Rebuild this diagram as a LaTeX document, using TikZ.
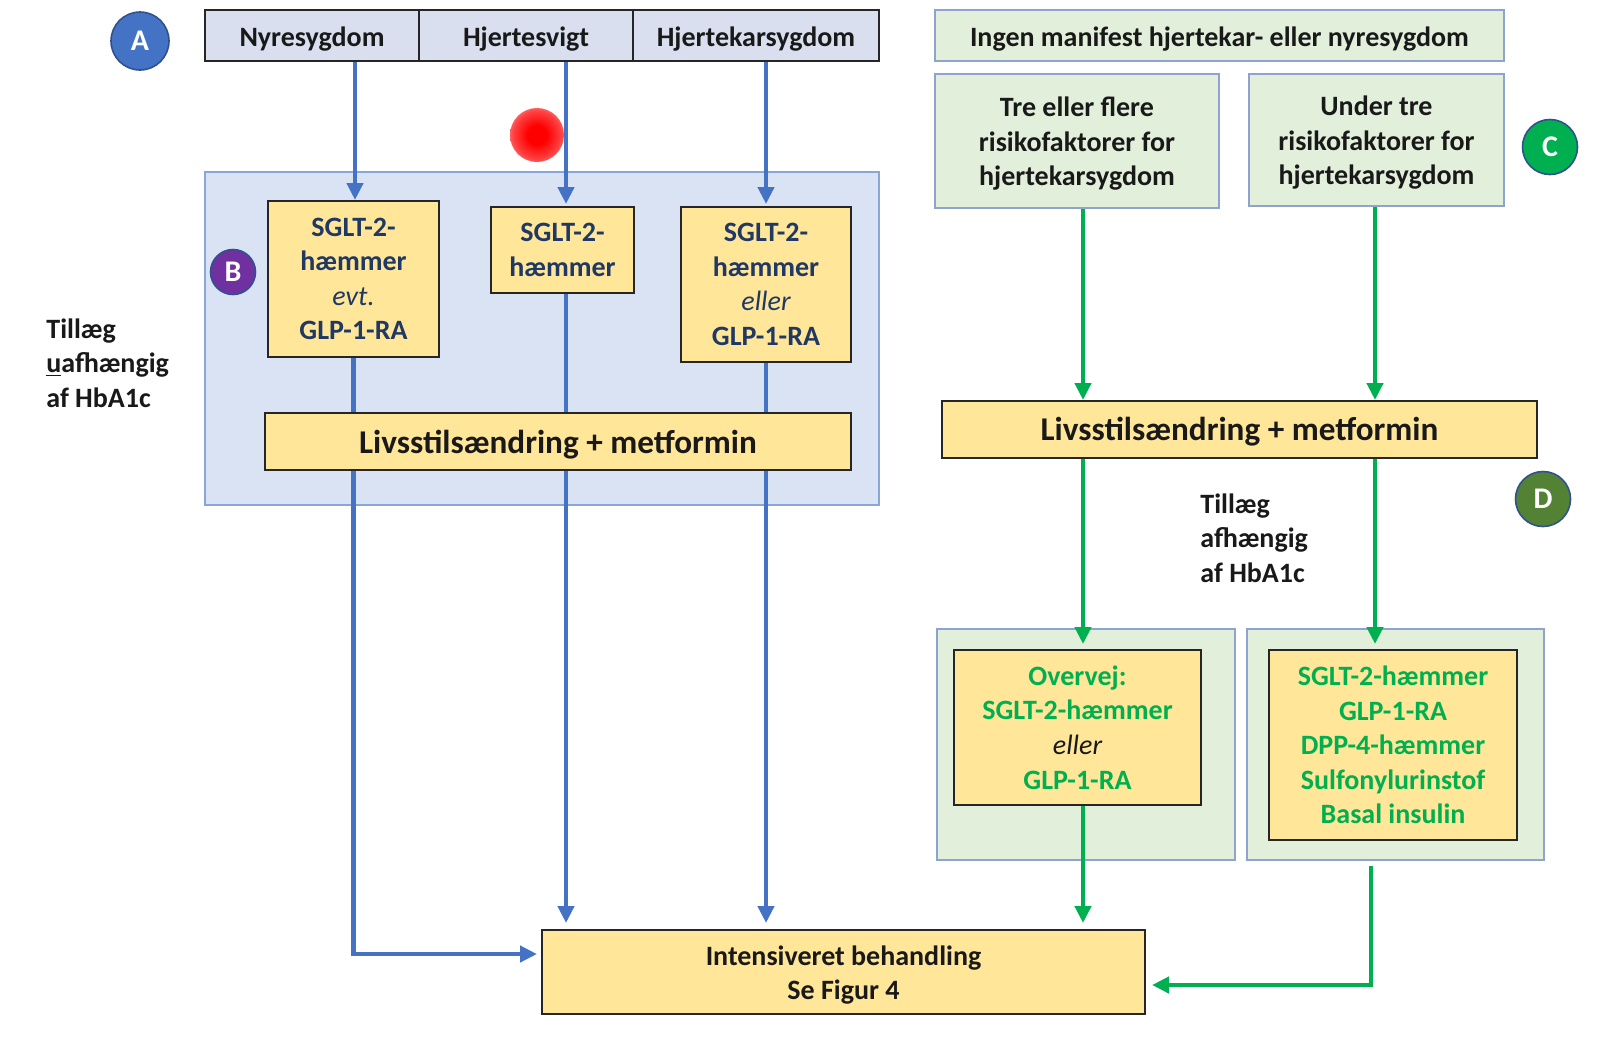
\documentclass[tikz,border=0pt]{standalone}
\usepackage{fontspec}
\setmainfont{Carlito}
\usetikzlibrary{arrows.meta,calc}
\definecolor{hdrfill}{HTML}{D9DFEF}
\definecolor{bfill}{HTML}{DAE3F3}
\definecolor{bborder}{HTML}{8AA6D8}
\definecolor{gfill}{HTML}{E2EFDA}
\definecolor{gborder}{HTML}{8EA3CF}
\definecolor{yel}{HTML}{FFE699}
\definecolor{navy}{HTML}{203864}
\definecolor{arrblue}{HTML}{4472C4}
\definecolor{arrgreen}{HTML}{00B050}
\definecolor{txtgreen}{HTML}{00B050}
\definecolor{cA}{HTML}{4472C4}
\definecolor{cB}{HTML}{7030A0}
\definecolor{cC}{HTML}{00B050}
\definecolor{cD}{HTML}{548235}
\definecolor{cborder}{HTML}{2F528F}
\pgfdeclareradialshading{laserdot}{\pgfpoint{0bp}{0bp}}{color(0bp)=(red); color(9bp)=(red); color(22bp)=(red!75); color(36bp)=(red!25); color(50bp)=(white)}
\newcommand\txtlow[2][2pt]{\raisebox{-#1}[\height][\depth]{\begin{tabular}{@{}c@{}}#2\end{tabular}}}
\begin{document}
\begin{tikzpicture}[x=0.5pt,y=-0.5pt,
  box/.style={rectangle, inner sep=0pt, line width=1pt, align=center, font=\fontsize{14}{17.3}\selectfont\bfseries},
  hdr/.style={box, draw=black!85, fill=hdrfill, text=black!90},
  ybox/.style={box, draw=black!85, fill=yel},
  bigy/.style={ybox, font=\fontsize{16.6}{20}\selectfont\bfseries, text=black!90},
  bcont/.style={box, draw=bborder, fill=bfill},
  gbox/.style={box, draw=gborder, fill=gfill, text=black!90},
  circ/.style={circle, inner sep=0pt, draw=cborder, line width=0.8pt, text=white, font=\fontsize{15}{18}\selectfont\bfseries},
  plain/.style={align=left, inner sep=0pt, font=\fontsize{14}{17.3}\selectfont\bfseries, text=black!90},
  bline/.style={draw=arrblue, line width=2.3pt},
  barrow/.style={bline, -{Triangle[width=8pt,length=8.5pt]}},
  gline/.style={draw=arrgreen, line width=2.3pt},
  garrow/.style={gline, -{Triangle[width=8pt,length=8.5pt]}}
]
\useasboundingbox[fill=white] (0,0) rectangle (1600,1039);

% ---------- left part ----------
\node[circ, fill=cA, minimum size=29pt] (cirA) at (140,41) {A};
\node[hdr, minimum width=107pt, minimum height=25.5pt] (nyre) at (312,35.5) {\txtlow{Nyresygdom}};
\node[hdr, minimum width=107pt, minimum height=25.5pt] (hjsv) at (526,35.5) {\txtlow{Hjertesvigt}};
\node[hdr, minimum width=123pt, minimum height=25.5pt] (hjka) at (756,35.5) {\txtlow{Hjertekarsygdom}};

\node[bcont, minimum width=337pt, minimum height=166.5pt] (contB) at (542,338.5) {};
\node[circ, fill=cB, minimum size=22.5pt] (cirB) at (233,272) {B};

\node[ybox, text=navy, minimum width=85.5pt, minimum height=78pt] (y1) at (353.5,279)
  {\txtlow[1pt]{SGLT-2-\\hæmmer\\{\mdseries\itshape evt.}\\GLP-1-RA}};
\node[ybox, text=navy, minimum width=71.5pt, minimum height=43pt] (y2) at (562.5,250)
  {SGLT-2-\\hæmmer};
\node[ybox, text=navy, minimum width=85pt, minimum height=77.5pt] (y3) at (766,284.5)
  {SGLT-2-\\hæmmer\\{\mdseries\itshape eller}\\GLP-1-RA};

\node[bigy, minimum width=293pt, minimum height=28.5pt] (LL) at (558,441.5) {\txtlow{Livsstilsændring + metformin}};

\node[plain, anchor=west] (tilL) at (46,363) {Tillæg\\\underline{u}afhængig\\af HbA1c};

\node[ybox, text=black!90, minimum width=301.5pt, minimum height=42pt] (intens) at (843.5,972)
  {\txtlow[1.8pt]{Intensiveret behandling\\Se Figur 4}};

% blue connectors
\coordinate (bl) at (0,954);
\coordinate (bx1) at (355,0);
\coordinate (bx2) at (566,0);
\draw[barrow] (bx1 |- nyre.south) -- (bx1 |- y1.north);
\draw[barrow] (bx2 |- hjsv.south) -- ([yshift=1pt]bx2 |- y2.north);
\draw[barrow] (y3.north |- hjka.south) -- ([yshift=1pt]y3.north);
\draw[bline] (y1.south) -- (y1.south |- LL.north);
\draw[bline] (y2.south -| bx2) -- (bx2 |- LL.north);
\draw[bline] (y3.south) -- (y3.south |- LL.north);
\draw[barrow, shorten >=2pt] (y1.south |- LL.south) -- (y1.south |- bl) -- (intens.west |- bl);
\draw[barrow, shorten >=3pt] (bx2 |- LL.south) -- (bx2 |- intens.north);
\draw[barrow, shorten >=3pt] (y3.south |- LL.south) -- (y3.south |- intens.north);

% ---------- right part ----------
\node[gbox, minimum width=284.5pt, minimum height=25.5pt] (ingen) at (1219.5,35.5)
  {\txtlow{Ingen manifest hjertekar- eller nyresygdom}};
\node[gbox, minimum width=142pt, minimum height=67pt] (tre) at (1077,141)
  {\txtlow[1.6pt]{Tre eller flere\\risikofaktorer for\\hjertekarsygdom}};
\node[gbox, minimum width=127.5pt, minimum height=66pt] (under) at (1376.5,140)
  {\txtlow[1.6pt]{Under tre\\risikofaktorer for\\hjertekarsygdom}};
\node[circ, fill=cC, minimum size=27.5pt] (cirC) at (1550,147) {C};

\node[bigy, minimum width=297.5pt, minimum height=28.5pt] (LR) at (1239.5,429.5) {\txtlow[1.6pt]{Livsstilsændring + metformin}};
\node[circ, fill=cD, minimum size=27.5pt] (cirD) at (1543,499) {D};
\node[plain, anchor=west] (tilR) at (1200,538) {Tillæg\\afhængig\\af HbA1c};

\node[gbox, minimum width=149pt, minimum height=115.5pt] (g1) at (1086,744.5) {};
\node[gbox, minimum width=148.5pt, minimum height=115.5pt] (g2) at (1395.5,744.5) {};
\node[ybox, text=txtgreen, minimum width=123.5pt, minimum height=77.5pt] (ov) at (1077.5,727.5)
  {Overvej:\\SGLT-2-hæmmer\\{\color{black!90}\mdseries\itshape eller}\\GLP-1-RA};
\node[ybox, text=txtgreen, minimum width=124pt, minimum height=95pt] (ry) at (1393,745)
  {SGLT-2-hæmmer\\GLP-1-RA\\DPP-4-hæmmer\\Sulfonylurinstof\\Basal insulin};

% green connectors
\coordinate (gx1) at (1083,0);
\coordinate (gx2) at (1375,0);
\coordinate (gx3) at (1371,0);
\coordinate (gl) at (0,985);
\draw[garrow] (tre.south -| gx1) -- (LR.north -| gx1);
\draw[garrow] (under.south -| gx2) -- (LR.north -| gx2);
\draw[garrow, shorten >=2.5pt] (LR.south -| gx1) -- (ov.north -| gx1);
\draw[garrow, shorten >=2.5pt] (LR.south -| gx2) -- (ry.north -| gx2);
\draw[garrow, shorten >=3pt] (ov.south -| gx1) -- (intens.north -| gx1);
\draw[garrow, shorten >=3pt] ($(g2.south -| gx3)+(0,5)$) -- (gx3 |- gl) -- (intens.east |- gl);

% laser pointer dot
\shade[shading=laserdot] (537,135) circle (13.5pt);
\end{tikzpicture}
\end{document}
